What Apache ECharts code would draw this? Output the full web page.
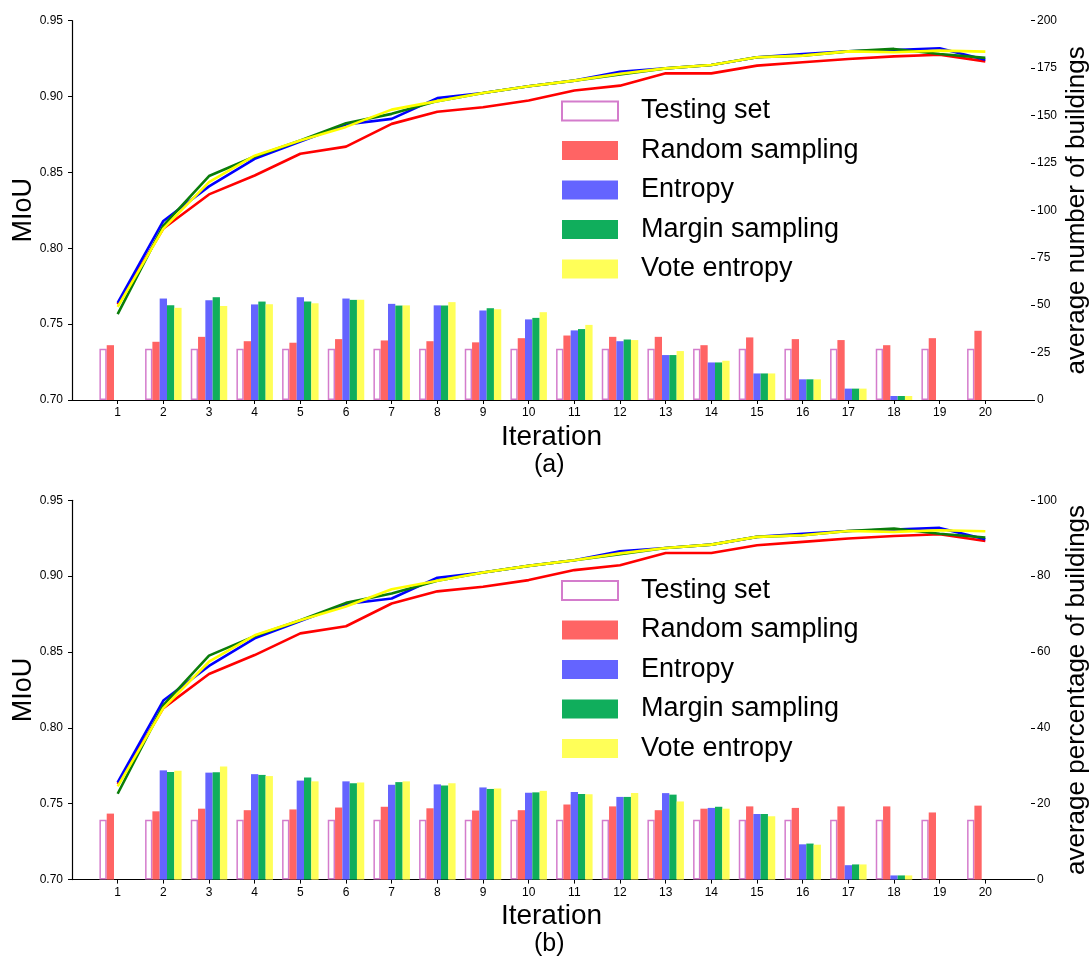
<!DOCTYPE html>
<html><head><meta charset="utf-8">
<script src="https://cdn.jsdelivr.net/npm/echarts@6/dist/echarts.min.js"></script>
<style>html,body{margin:0;padding:0;background:#fff}#c{width:1090px;height:956px}</style>
</head><body><div id="c"></div>
<script>
const iterations = [1,2,3,4,5,6,7,8,9,10,11,12,13,14,15,16,17,18,19,20];
const seriesNames = ['Testing set','Random sampling','Entropy','Margin sampling','Vote entropy'];
// MIoU curves (same in both panels)
const miouRandom = [0.763,0.813,0.8355,0.848,0.8623,0.867,0.882,0.890,0.893,0.8974,0.904,0.9072,0.9153,0.9153,0.9204,0.9226,0.9248,0.9265,0.9276,0.9232];
const miouEntropy = [0.764,0.818,0.8408,0.859,0.8704,0.8816,0.8853,0.899,0.9024,0.9068,0.9105,0.9164,0.9186,0.9208,0.9259,0.928,0.9298,0.9307,0.9318,0.9243];
const miouMargin = [0.7566,0.815,0.8476,0.8605,0.871,0.8824,0.8886,0.897,0.9024,0.9068,0.9105,0.9145,0.9186,0.9208,0.9259,0.927,0.9298,0.9314,0.928,0.9255];
const miouVote = [0.7614,0.813,0.8436,0.861,0.871,0.880,0.8914,0.897,0.9024,0.9068,0.9105,0.915,0.9186,0.9208,0.9259,0.927,0.9298,0.9292,0.9303,0.9296];
// (a) average number of buildings
const numTesting = [27,27,27,27,27,27,27,27,27,27,27,27,27,27,27,27,27,27,27,27];
const numRandom = [28.9,30.7,33.3,31,30.2,32.1,31.4,31,30.4,32.6,34,33.3,33.3,28.9,33,32.1,31.6,28.9,32.6,36.5];
const numEntropy = [null,53.5,52.6,50.4,54.2,53.5,50.7,49.9,47.2,42.5,36.7,31,23.7,19.8,14,10.9,6,2.1,null,null];
const numMargin = [null,50,54.2,51.9,51.9,52.8,49.8,49.8,48.4,43.3,37.4,31.9,23.7,19.8,14,10.9,6,2.1,null,null];
const numVote = [null,48.6,49.5,50.5,51,52.8,49.9,51.6,47.9,46.3,39.6,31.6,25.8,20.7,14,10.9,6,2.1,null,null];
// (b) average percentage of buildings
const pctTesting = [15.8,15.8,15.8,15.8,15.8,15.8,15.8,15.8,15.8,15.8,15.8,15.8,15.8,15.8,15.8,15.8,15.8,15.8,15.8,15.8];
const pctRandom = [17.4,18.0,18.7,18.3,18.5,19.0,19.2,18.8,18.2,18.3,19.8,19.3,18.3,18.7,19.3,18.9,19.3,19.3,17.7,19.5];
const pctEntropy = [null,28.8,28.2,27.8,26.1,25.9,25.0,25.1,24.3,22.9,23.1,21.8,22.8,18.9,17.3,9.3,3.8,1.1,null,null];
const pctMargin = [null,28.4,28.3,27.6,26.9,25.4,25.7,24.8,23.9,23.0,22.6,21.8,22.4,19.2,17.3,9.5,4.0,1.1,null,null];
const pctVote = [null,28.7,29.8,27.3,25.9,25.6,25.9,25.4,24.0,23.4,22.5,22.8,20.6,18.7,16.7,9.2,4.0,1.1,null,null];

const FONT = 'Liberation Sans, Arial, sans-serif';
const barColors = ['#ffffff','#ff6464','#6464ff','#10ae5c','#ffff58'];
const lineColors = ['#ff0000','#0000ff','#0a7d0a','#ffff00'];

const pair = arr => iterations.map((it,i) => [it, arr[i]]);

function grids(){
  return [
    {left:72, right:59, top:20.7, height:379.3, outerBoundsMode:'none', containLabel:false},
    {left:72, right:59, top:500.3, height:379.3, outerBoundsMode:'none', containLabel:false}
  ];
}
function xAxisDef(gi){
  return {type:'value', gridIndex:gi, min:0, max:21, interval:1,
    name:'Iteration', nameLocation:'middle', nameGap:23, nameMoveOverlap:false,
    nameTextStyle:{fontSize:28, fontFamily:FONT, color:'#000'},
    axisLine:{show:true, onZero:false, lineStyle:{color:'#000', width:1.2}},
    axisTick:{show:true, length:4, lineStyle:{color:'#000'}, customValues:iterations},
    axisLabel:{fontSize:12, fontFamily:FONT, color:'#000', margin:7, customValues:iterations},
    splitLine:{show:false}};
}
function leftAxis(gi){
  return {type:'value', gridIndex:gi, position:'left', min:0.7, max:0.95, interval:0.05,
    name:'MIoU', nameLocation:'middle', nameGap:35, nameRotate:90, nameMoveOverlap:false,
    nameTextStyle:{fontSize:27, fontFamily:FONT, color:'#000'},
    axisLine:{show:true, lineStyle:{color:'#000', width:1.2}},
    axisTick:{show:true, length:4, lineStyle:{color:'#000'}},
    axisLabel:{fontSize:12, fontFamily:FONT, color:'#000', margin:9, formatter:v=>v.toFixed(2)},
    splitLine:{show:false}};
}
function rightAxis(gi, max, interval, name){
  return {type:'value', gridIndex:gi, position:'right', min:0, max:max, interval:interval,
    name:name, nameLocation:'middle', nameGap:33, nameRotate:90, nameMoveOverlap:false,
    nameTextStyle:{fontSize:26, fontFamily:FONT, color:'#000'},
    axisLine:{show:false}, axisTick:{show:true, length:4, lineStyle:{color:'#000'}},
    axisLabel:{fontSize:12, fontFamily:FONT, color:'#000', margin:6},
    splitLine:{show:false}};
}
function barSeries(gi, arrs){
  return arrs.map((arr,k) => ({
    name: seriesNames[k], type:'bar', xAxisIndex:gi, yAxisIndex:gi*2+1,
    data: pair(arr), barWidth:7.3, barGap:'0%',
    itemStyle: k===0 ? {color:'#ffffff', borderColor:'#d47ccc', borderWidth:1.5} : {color:barColors[k]},
    emphasis:{disabled:true}, z:2
  }));
}
function lineSeries(gi){
  const arrs = [miouRandom, miouEntropy, miouMargin, miouVote];
  const nm = ['Random MIoU','Entropy MIoU','Margin MIoU','Vote MIoU'];
  return arrs.map((arr,k) => ({
    name: nm[k], type:'line', xAxisIndex:gi, yAxisIndex:gi*2,
    data: pair(arr), symbol:'none', lineStyle:{color:lineColors[k], width:2.6},
    itemStyle:{color:lineColors[k]}, z:5, emphasis:{disabled:true}
  }));
}
function legendDef(top){
  return {orient:'vertical', left:561, top:top, padding:0, data:seriesNames, icon:'rect',
    itemWidth:56, itemHeight:19, itemGap:9.5,
    textStyle:{fontSize:27, fontFamily:FONT, color:'#000', lineHeight:30, padding:[0,0,0,18]},
    selectedMode:false};
}

const chart = echarts.init(document.getElementById('c'), null, {renderer:'canvas'});
chart.setOption({
  animation:false,
  backgroundColor:'#fff',
  grid: grids(),
  title:[
    {text:'(a)', left:534, top:453, padding:0, textStyle:{fontSize:25, fontWeight:'normal', fontFamily:FONT, color:'#000'}},
    {text:'(b)', left:534, top:932, padding:0, textStyle:{fontSize:25, fontWeight:'normal', fontFamily:FONT, color:'#000'}}
  ],
  legend:[legendDef(96), legendDef(575.5)],
  xAxis:[xAxisDef(0), xAxisDef(1)],
  yAxis:[leftAxis(0), rightAxis(0,200,25,'average number of buildings'), leftAxis(1), rightAxis(1,100,20,'average percentage of buildings')],
  series:[].concat(
    barSeries(0,[numTesting,numRandom,numEntropy,numMargin,numVote]),
    lineSeries(0),
    barSeries(1,[pctTesting,pctRandom,pctEntropy,pctMargin,pctVote]),
    lineSeries(1)
  )
});
</script></body></html>
